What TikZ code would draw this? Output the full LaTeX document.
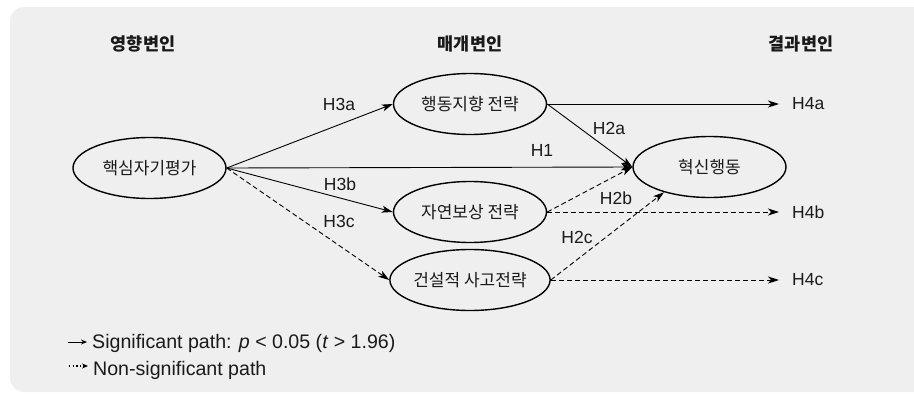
\documentclass[tikz,border=0pt]{standalone}
\usepackage{fontspec}
\setmainfont{Liberation Sans}
\newfontfamily\kr{Noto Sans CJK KR}
\usetikzlibrary{shapes.geometric,arrows.meta}
\definecolor{bg}{HTML}{EFEFEF}
\definecolor{ink}{HTML}{1A1A1A}
\begin{document}
\begin{tikzpicture}[x=1pt,y=-1pt,
  var/.style={ellipse,draw,line width=1.4pt,minimum width=153pt,minimum height=61pt,inner sep=0pt,text=ink,font=\kr\fontsize{17}{20}\selectfont},
  hdr/.style={font=\kr\bfseries\fontsize{17.5}{20}\selectfont,inner sep=0pt,text=ink},
  lbl/.style={font=\fontsize{17.5}{20}\selectfont,inner sep=0pt,text=ink},
  sig/.style={line width=0.9pt,-{Stealth[length=11pt,width=7pt,inset=3pt]}},
  ns/.style={sig,dash pattern=on 5pt off 3pt},
  leg/.style={font=\fontsize{19.6}{22}\selectfont,inner sep=0pt,anchor=base west,text=ink}]
\useasboundingbox (0,0) rectangle (914,394);
\fill[bg,rounded corners=14pt] (10,7) rectangle (930,392);
% headers
\node[hdr] (hd1) at (143,44) {영향변인};
\node[hdr] (hd2) at (470,44) {매개변인};
\node[hdr] (hd3) at (801,44) {결과변인};
% variables
\node[var] (core) at (149.5,168) {핵심자기평가};
\node[var] (act) at (470,104) {행동지향 전략};
\node[var] (nat) at (470,212) {자연보상 전략};
\node[var] (con) at (470,280) {건설적 사고전략};
\node[var] (inn) at (709.5,167) {혁신행동};
% outcome labels
\node[lbl,anchor=west] (h4a) at (792,104) {H4a};
\node[lbl,anchor=west] (h4b) at (792,212) {H4b};
\node[lbl,anchor=west] (h4c) at (792,280) {H4c};
% paths
\draw[sig] (core.east) -- (act.west);
\draw[sig] (core.east) -- (inn.west);
\draw[sig] (core.east) -- (nat.west);
\draw[ns] (core.east) -- (con.west);
\draw[sig] (act.east) -- (inn.west);
\draw[ns] (nat.east) -- (inn.west);
\draw[ns] (con.east) -- (inn.209);
\draw[sig] (act.east) -- ([xshift=-13pt]h4a.west);
\draw[ns] (nat.east) -- ([xshift=-13pt]h4b.west);
\draw[ns] (con.east) -- ([xshift=-13pt]h4c.west);
% path labels
\node[lbl] (l3a) at (339,104) {H3a};
\node[lbl] (l3b) at (340,184) {H3b};
\node[lbl] (l3c) at (339,221) {H3c};
\node[lbl] (l1) at (542,150) {H1};
\node[lbl] (l2a) at (609,128) {H2a};
\node[lbl] (l2b) at (616,198) {H2b};
\node[lbl] (l2c) at (577,237) {H2c};
% legend
\coordinate (s1) at (68,342);
\coordinate (s2) at (87,342);
\coordinate (d1) at (69,366);
\coordinate (d2) at (88,366);
\draw[line width=1pt,-{Stealth[length=6pt,width=5pt]}] (s1) -- (s2);
\draw[line width=1.4pt,dash pattern=on 1.4pt off 2.2pt,-{Stealth[length=6pt,width=5pt]}] (d1) -- (d2);
\node[leg] (t1) at (92,348) {Significant path: \textit{p} < 0.05 (\textit{t} > 1.96)};
\node[leg] (t2) at (93,375) {Non-significant path};
\end{tikzpicture}
\end{document}
